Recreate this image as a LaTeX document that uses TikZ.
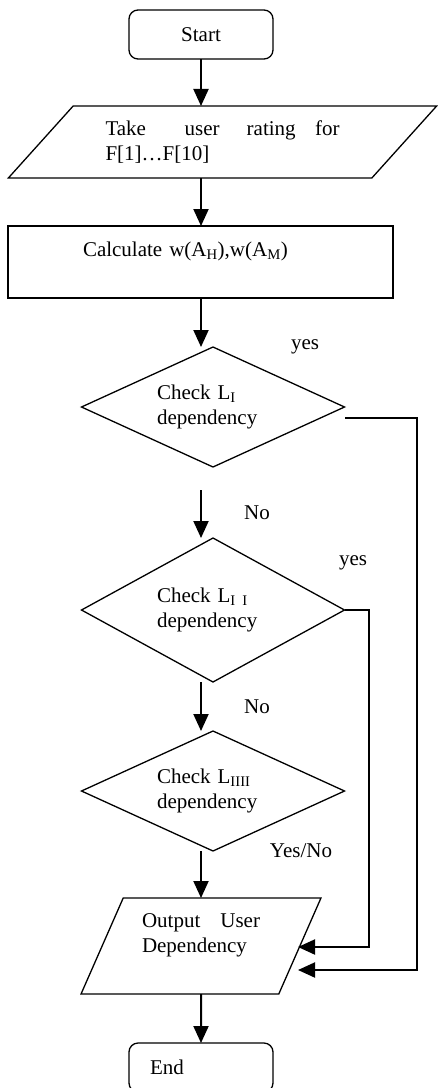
\documentclass[tikz,border=0pt]{standalone}
\usepackage{fontspec}
\setmainfont{Liberation Serif}
\usetikzlibrary{shapes.geometric,arrows.meta}
\begin{document}
\begin{tikzpicture}[x=1pt,y=-1pt,
  every node/.style={font=\fontsize{21}{25}\selectfont, inner sep=0pt, outer sep=0pt},
  shape line/.style={draw, line width=1.3pt},
  terminal/.style={shape line, rectangle, rounded corners=9pt,
    minimum width=144pt, minimum height=49pt},
  io/.style={shape line, trapezium, trapezium stretches=true},
  process/.style={shape line, rectangle},
  decision/.style={shape line, diamond, aspect=2.2, minimum width=263pt,
    text width=112pt, align=left},
  conn/.style={line width=2pt, -{Triangle[width=15pt,length=17pt]}},
]
\useasboundingbox (0,0) rectangle (437,1088);

% main column of steps
\node[terminal] (start) at (201,34.5) {Start};
\node[io, trapezium left angle=40, trapezium right angle=140,
  minimum width=429pt, minimum height=72pt, text width=234pt, align=left]
  (input) at (222.5,142)
  {\makebox[234pt][s]{Take\hspace{0pt plus 2fil}user\hspace{0pt plus 1.4fil}rating\hspace{0pt plus 1fil}for}\\F[1]…F[10]};
\node[process, minimum width=385pt, minimum height=72pt, text width=235pt, align=left]
  (calc) at (200.5,262)
  {Calculate w(A\textsubscript{H}),w(A\textsubscript{M})\\\mbox{}};
\node[decision, minimum height=120pt] (d1) at (213,407)
  {Check L\textsubscript{I}\\dependency};
\node[decision, minimum height=144pt] (d2) at (213,610)
  {Check L\textsubscript{I I}\\dependency};
\node[decision, minimum height=120pt] (d3) at (213,791)
  {Check L\textsubscript{IIII}\\dependency};
\node[io, trapezium left angle=63.4, trapezium right angle=116.6,
  minimum width=240pt, minimum height=96pt, text width=118pt, align=left]
  (output) at (201,946)
  {\makebox[118pt][s]{Output\hfill User}\\Dependency\\\mbox{}};
\node[terminal, text width=102pt, align=left] (end) at (201,1067.5) {End};

% branch labels
\node (yes1) at (305,347) {yes};
\node (no1lbl) at (257,513) {No};
\node (yes2) at (353,563) {yes};
\node (no2lbl) at (257,707) {No};
\node (yesno) at (301,851) {Yes/No};

% free ends of connectors
\coordinate (no1) at (201,490);
\coordinate (y1) at (345,418);
\coordinate (in1) at (298,970);
\coordinate (in2) at (298,947);

% vertical flow
\draw[conn] (start) -- (input.north -| start);
\draw[conn] (input.south -| start) -- (calc.north -| start);
\draw[conn] (calc.south -| start) -- (d1.north -| start);
\draw[conn] (no1) -- (d2.north -| start);
\draw[conn] (d2.south -| start) -- (d3.north -| start);
\draw[conn] (d3.south -| start) -- (output.north -| start);
\draw[conn] (output.south) -- (end.north);

% yes branches back to the output
\draw[conn] (y1) -- ++(72,0) |- (in1);
\draw[conn] (d2.east) -- ++(24,0) |- (in2);
\end{tikzpicture}
\end{document}
